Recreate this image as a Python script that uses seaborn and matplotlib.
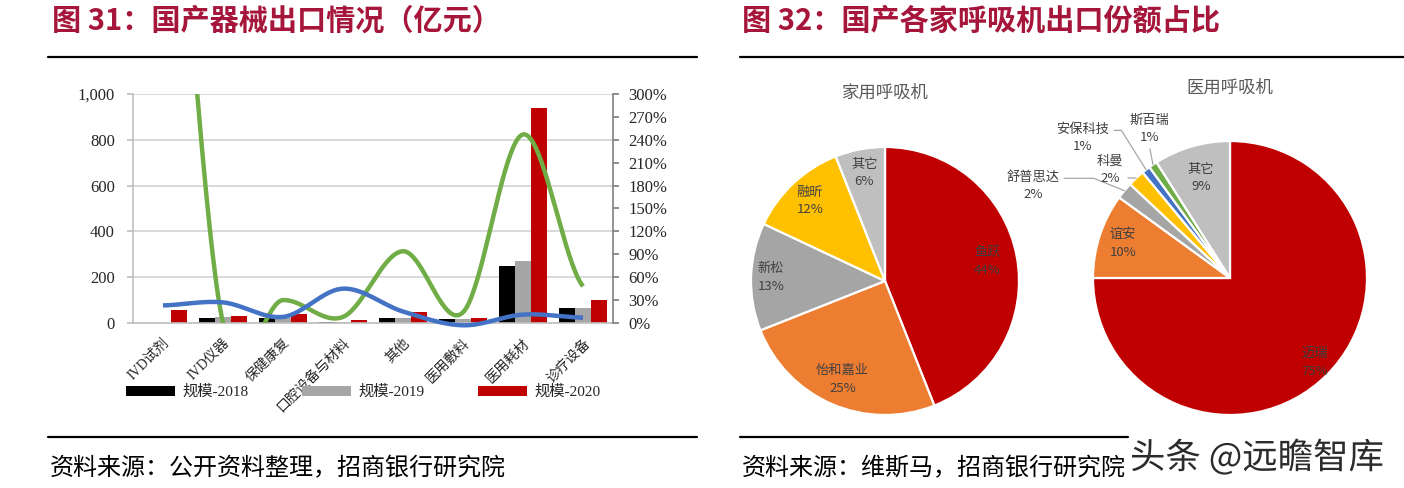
import numpy as np
import pandas as pd
import matplotlib
matplotlib.use('Agg')
import matplotlib.pyplot as plt
import matplotlib.patheffects as pe
import matplotlib.transforms as mtransforms
from matplotlib.patches import Patch
from matplotlib.lines import Line2D
from matplotlib.ticker import FuncFormatter
import seaborn as sns

# 图31 数据（亿元）
cats = ['IVD试剂', 'IVD仪器', '保健康复', '口腔设备与材料', '其他', '医用敷料', '医用耗材', '诊疗设备']
v2018 = [2, 23, 23, 4, 23, 19, 247, 64]
v2019 = [1, 28, 20, 6, 23, 19, 272, 67]
v2020 = [55, 32, 38, 12, 48, 20, 940, 100]
# 增速（%），右轴
g2019 = [23, 27, 8, 45, 15, -3, 11, 7]
g2020 = [730, 0, 30, 8, 94, 14, 247, 48]

# 图32 数据（%）
home_names = ['鱼跃', '怡和嘉业', '新松', '融昕', '其它']
home_share = [44, 25, 13, 12, 6]
med_names = ['迈瑞', '谊安', '舒普思达', '科曼', '安保科技', '斯百瑞', '其它']
med_share = [75, 10, 2, 2, 1, 1, 9]

RED = '#C00000'
ORANGE = '#ED7D31'
GRAY = '#A5A5A5'
YELLOW = '#FFC000'
BLUE = '#4472C4'
GREEN = '#70AD47'
LGRAY = '#BFBFBF'
TITLE_C = '#A6163A'

W, H = 1404, 488


def box(x0, y0, x1, y1):
    return [x0 / W, 1 - y1 / H, (x1 - x0) / W, (y1 - y0) / H]


def smooth(vals, n=40):
    # Excel 平滑线（Catmull-Rom）
    p = np.asarray(vals, float)
    P = np.concatenate([[p[0]], p, [p[-1]]])
    xs, ys = [], []
    for i in range(len(p) - 1):
        t = np.linspace(0, 1, n, endpoint=(i == len(p) - 2))
        p0, p1, p2, p3 = P[i], P[i + 1], P[i + 2], P[i + 3]
        y = 0.5 * (2 * p1 + (-p0 + p2) * t + (2 * p0 - 5 * p1 + 4 * p2 - p3) * t ** 2
                   + (-p0 + 3 * p1 - 3 * p2 + p3) * t ** 3)
        xs.append(i + t)
        ys.append(y)
    return np.concatenate(xs), np.concatenate(ys)


sns.set_theme(style='white')
plt.rcParams['font.family'] = ['Noto Sans CJK SC', 'DejaVu Sans']
SERIF = ['Liberation Serif', 'Noto Sans CJK SC']

fig = plt.figure(figsize=(W / 100, H / 100), dpi=100)

# 标题、分隔线、来源
fig.text(52 / W, 1 - 21 / H, '图 31：国产器械出口情况（亿元）', fontsize=21, fontweight='bold',
         color=TITLE_C, va='center', ha='left')
fig.text(742 / W, 1 - 21 / H, '图 32：国产各家呼吸机出口份额占比', fontsize=21, fontweight='bold',
         color=TITLE_C, va='center', ha='left')
for x0, x1, y in [(48, 697, 57), (740, 1404, 57), (48, 697, 437), (740, 1128, 437)]:
    fig.add_artist(Line2D([x0 / W, x1 / W], [1 - y / H] * 2, color='black', lw=1.6))
fig.text(50 / W, 1 - 468 / H, '资料来源：公开资料整理，招商银行研究院', fontsize=17.3,
         va='center', ha='left', color='black')
fig.text(742 / W, 1 - 468 / H, '资料来源：维斯马，招商银行研究院', fontsize=17.3,
         va='center', ha='left', color='black')

# ---- 图31 柱状 + 增速线 ----
df = pd.DataFrame({
    'cat': cats * 3,
    'year': ['2018'] * 8 + ['2019'] * 8 + ['2020'] * 8,
    'value': v2018 + v2019 + v2020,
})
ax = fig.add_axes(box(133, 94, 613, 323))
sns.barplot(data=df, x='cat', y='value', hue='year', palette=['#000000', '#A6A6A6', RED],
            saturation=1, width=0.8, linewidth=0, ax=ax, legend=False)
ax.set_xlim(-0.5, 7.5)
ax.set_ylim(0, 1000)
ax.set_yticks(range(0, 1001, 200))
ax.yaxis.set_major_formatter(FuncFormatter(lambda v, p: f'{v:,.0f}'))
ax.grid(axis='y', color='#D9D9D9', lw=1.4)
ax.set_axisbelow(True)
ax.set_xlabel('')
ax.set_ylabel('')
for s in ['top', 'right']:
    ax.spines[s].set_visible(False)
for s in ['left', 'bottom']:
    ax.spines[s].set_color('#BFBFBF')
    ax.spines[s].set_linewidth(1.2)
ax.tick_params(axis='y', left=True, length=4, color='#BFBFBF', labelsize=12, pad=9)
ax.tick_params(axis='x', bottom=False, pad=3.5)
for lab in ax.get_yticklabels():
    lab.set_family(SERIF)
ax.set_xticks(range(len(cats)))
ax.set_xticklabels(cats, rotation=45, ha='right', rotation_mode='anchor',
                   family=SERIF, fontsize=10)

ax2 = ax.twinx()
ax2.set_ylim(0, 3)
xs, ys = smooth(np.array(g2020) / 100)
ax2.plot(xs, ys, color=GREEN, lw=3.2, solid_capstyle='butt')
xs, ys = smooth(np.array(g2019) / 100)
ax2.plot(xs, ys, color=BLUE, lw=3.2, solid_capstyle='butt', clip_on=False)
ax2.set_yticks(np.arange(0, 3.01, 0.3))
ax2.yaxis.set_major_formatter(FuncFormatter(lambda v, p: f'{v:.0%}'))
ax2.tick_params(axis='y', right=True, length=4, color='#808080', labelsize=12, pad=7)
for lab in ax2.get_yticklabels():
    lab.set_family(SERIF)
for s in ['top', 'left', 'bottom']:
    ax2.spines[s].set_visible(False)
ax2.spines['right'].set_color('#808080')
ax2.spines['right'].set_linewidth(1.2)
ax2.grid(False)

handles = [Patch(facecolor=c, edgecolor='none') for c in ['#000000', '#A6A6A6', RED]]
fig.legend(handles, ['规模-2018', '规模-2019', '规模-2020'], loc='center left',
           bbox_to_anchor=(126 / W, 1 - 392 / H), ncol=3, frameon=False,
           prop={'family': SERIF, 'size': 11}, handlelength=3.2, handleheight=0.65,
           handletextpad=0.5, columnspacing=3.5, borderaxespad=0, borderpad=0)

# ---- 图32 饼图 ----
def draw_pie(ax, shares, colors, names, inside, dist):
    wedges, _ = ax.pie(shares, colors=colors, startangle=90, counterclock=False,
                       wedgeprops=dict(edgecolor='white', linewidth=1.6))
    ax.set_xlim(-1, 1)
    ax.set_ylim(-1, 1)
    ax.set_aspect('equal')
    ax.axis('off')
    for w, name, val in zip(wedges, names, shares):
        if name in inside:
            mid = np.deg2rad((w.theta1 + w.theta2) / 2)
            d = dist.get(name, 0.8)
            ax.text(d * np.cos(mid), d * np.sin(mid), f'{name}\n{val}%', ha='center', va='center',
                    fontsize=9.5, color='#404040', linespacing=1.45)
    return wedges


fig.text(885 / W, 1 - 93 / H, '家用呼吸机', fontsize=12.5, color='#595959', ha='center', va='center')
fig.text(1230 / W, 1 - 88 / H, '医用呼吸机', fontsize=12.5, color='#595959', ha='center', va='center')

pa = fig.add_axes(box(751, 147, 1019, 415))
draw_pie(pa, home_share, [RED, ORANGE, GRAY, YELLOW, LGRAY], home_names,
         set(home_names), {'鱼跃': 0.78, '怡和嘉业': 0.8, '新松': 0.85, '融昕': 0.82, '其它': 0.82})

pb = fig.add_axes(box(1093, 141, 1367, 415))
wb = draw_pie(pb, med_share, [RED, ORANGE, GRAY, YELLOW, BLUE, GREEN, LGRAY], med_names,
              {'迈瑞', '谊安', '其它'}, {'迈瑞': 0.87, '谊安': 0.82, '其它': 0.76})

outside = {
    '舒普思达': ((-1.438, 0.672), (1, 0.75), 'angle,angleA=0,angleB=158,rad=0'),
    '科曼': ((-0.876, 0.788), (1, 0.25), 'arc3,rad=0'),
    '安保科技': ((-1.073, 1.022), (1, 0.75), 'angle,angleA=0,angleB=122,rad=0'),
    '斯百瑞': ((-0.591, 1.088), (0.5, 0.0), 'arc3,rad=0'),
}
for w, name, val in zip(wb, med_names, med_share):
    if name in outside:
        txy, rel, conn = outside[name]
        mid = np.deg2rad((w.theta1 + w.theta2) / 2)
        pb.annotate(f'{name}\n{val}%', xy=(np.cos(mid), np.sin(mid)), xytext=txy,
                    ha='center', va='center', fontsize=9.5, color='#404040', linespacing=1.45,
                    annotation_clip=False,
                    arrowprops=dict(arrowstyle='-', color='#A6A6A6', lw=0.9, shrinkA=1, shrinkB=0,
                                    relpos=rel, connectionstyle=conn))

# 水印
fig.text(1130 / W, 1 - 458 / H, '头条 @远瞻智库', fontsize=25.5, color='#2b2b2b', ha='left', va='center',
         path_effects=[pe.withStroke(linewidth=3, foreground='white')])

fig.savefig('out.png', dpi=100)
